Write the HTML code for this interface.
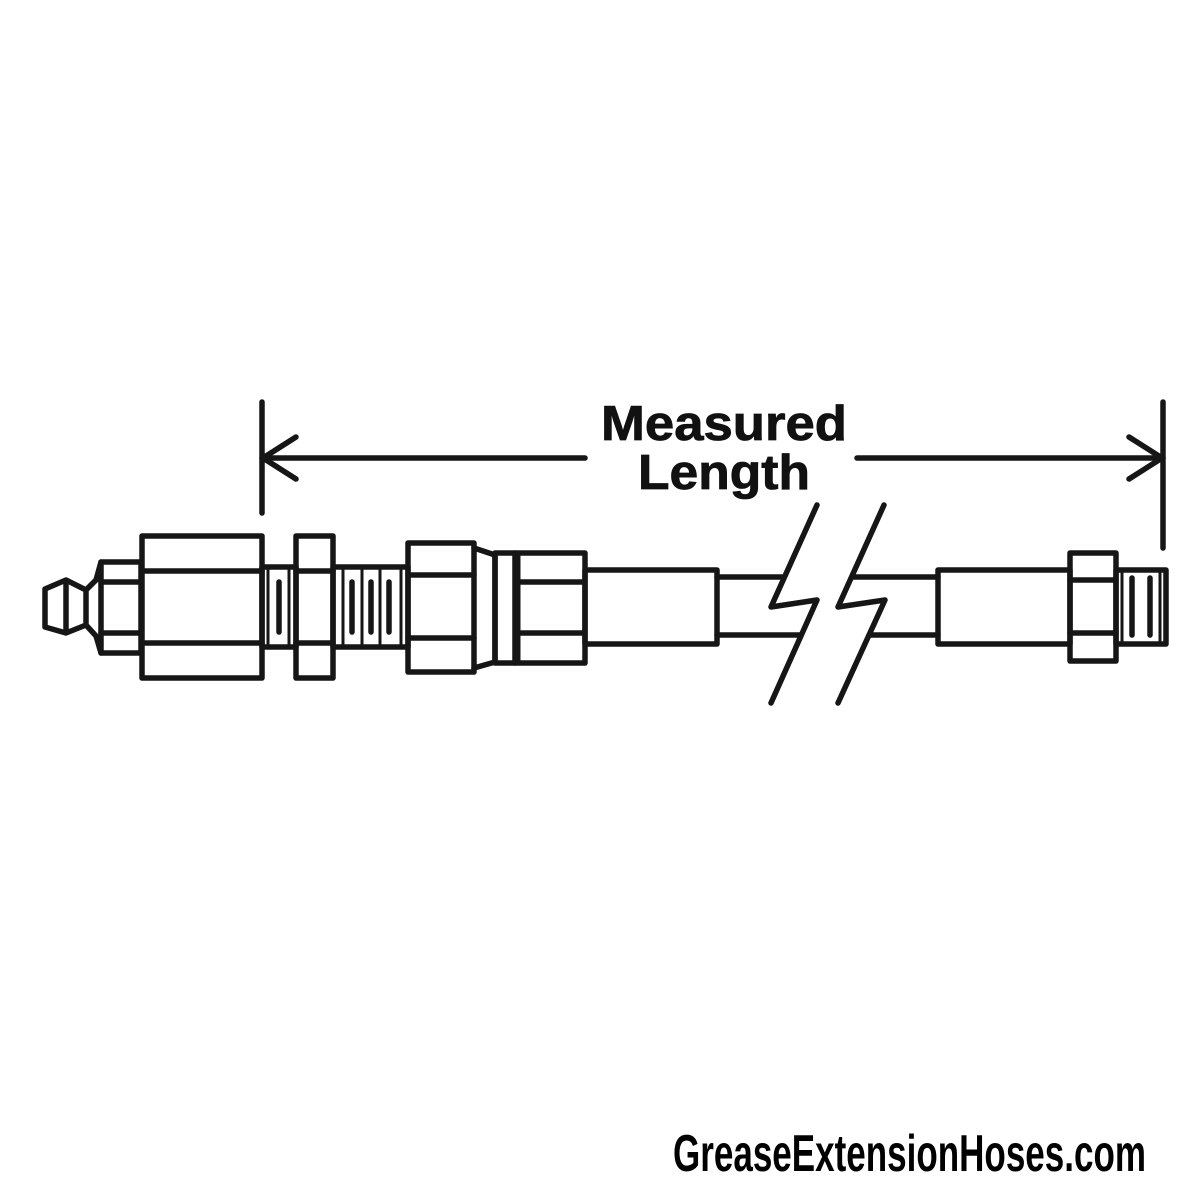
<!DOCTYPE html>
<html><head><meta charset="utf-8"><style>html,body{margin:0;padding:0;background:#fff}svg{display:block}</style></head>
<body>
<svg width="1200" height="1200" viewBox="0 0 1200 1200" xmlns="http://www.w3.org/2000/svg">
<rect width="1200" height="1200" fill="#fff"/>
<g fill="none" stroke="#161616" stroke-width="5.5" stroke-linejoin="round" stroke-linecap="round">
<line x1="262" y1="402" x2="262" y2="513"/>
<line x1="1163" y1="402" x2="1163" y2="548"/>
<line x1="262" y1="458" x2="585" y2="458"/>
<line x1="857" y1="458" x2="1163" y2="458"/>
<polyline points="296,437 263,458 296,479"/>
<polyline points="1129,437 1162,458 1129,479"/>
<polygon points="45,589 66,580 86,590 86,625 66,633 45,627"/>
<line x1="66" y1="581" x2="66" y2="632"/>
<polyline points="86,590 96,580 101,562"/>
<polyline points="86,625 96,636 101,653"/>
<rect x="101" y="562" width="40" height="91"/>
<line x1="101" y1="582" x2="141" y2="582"/>
<line x1="101" y1="633" x2="141" y2="633"/>
<rect x="142" y="536" width="120" height="142"/>
<line x1="142" y1="571" x2="262" y2="571"/>
<line x1="142" y1="643" x2="262" y2="643"/>
<rect x="262" y="567" width="34" height="80"/>
<line x1="268" y1="567" x2="268" y2="647" stroke-width="3"/>
<line x1="289" y1="567" x2="289" y2="647" stroke-width="3"/>
<line x1="279" y1="582" x2="279" y2="632"/>
<rect x="296" y="536" width="37" height="142"/>
<line x1="296" y1="571" x2="333" y2="571"/>
<line x1="296" y1="643" x2="333" y2="643"/>
<rect x="333" y="567" width="75" height="80"/>
<line x1="343" y1="567" x2="343" y2="647" stroke-width="3"/>
<line x1="362" y1="567" x2="362" y2="647" stroke-width="3"/>
<line x1="380" y1="567" x2="380" y2="647" stroke-width="3"/>
<line x1="401" y1="567" x2="401" y2="647" stroke-width="3"/>
<line x1="352" y1="582" x2="352" y2="632"/>
<line x1="371" y1="582" x2="371" y2="632"/>
<line x1="389" y1="582" x2="389" y2="632"/>
<rect x="408" y="543" width="66" height="129"/>
<line x1="408" y1="575" x2="474" y2="575"/>
<line x1="408" y1="638" x2="474" y2="638"/>
<polyline points="474,548 495,555 495,662 474,668"/>
<rect x="495" y="553" width="90" height="110"/>
<line x1="515" y1="553" x2="515" y2="663"/>
<line x1="519" y1="553" x2="519" y2="663" stroke-width="3"/>
<line x1="519" y1="582" x2="585" y2="582"/>
<line x1="519" y1="633" x2="585" y2="633"/>
<rect x="585" y="570" width="132" height="74"/>
<line x1="717" y1="577" x2="784" y2="577"/>
<line x1="717" y1="635" x2="801" y2="635"/>
<line x1="854" y1="577" x2="938" y2="577"/>
<line x1="871" y1="635" x2="938" y2="635"/>
<polyline points="817,505 771,607 817,600 771,703"/>
<polyline points="884,505 838,607 885,600 838,703"/>
<rect x="938" y="570" width="132" height="74"/>
<rect x="1070" y="553" width="46" height="108"/>
<line x1="1070" y1="580" x2="1116" y2="580"/>
<line x1="1070" y1="633" x2="1116" y2="633"/>
<rect x="1116" y="570" width="50" height="74"/>
<line x1="1122" y1="570" x2="1122" y2="644" stroke-width="3"/>
<line x1="1160" y1="570" x2="1160" y2="644" stroke-width="3"/>
<line x1="1132" y1="578" x2="1132" y2="635"/>
<line x1="1150" y1="578" x2="1150" y2="635"/>
</g>
<g font-family="'Liberation Sans', sans-serif" font-weight="bold" font-size="49" fill="#111" text-anchor="middle" stroke="#111" stroke-width="0.8">
<text x="724" y="440" textLength="246" lengthAdjust="spacingAndGlyphs">Measured</text>
<text x="724" y="489" textLength="172" lengthAdjust="spacingAndGlyphs">Length</text>
</g>
<text x="673" y="1171" font-family="'Liberation Sans Narrow','Liberation Sans',sans-serif" font-weight="bold" font-size="52" fill="#000" textLength="473" lengthAdjust="spacingAndGlyphs">GreaseExtensionHoses.com</text>
</svg>
</body></html>
